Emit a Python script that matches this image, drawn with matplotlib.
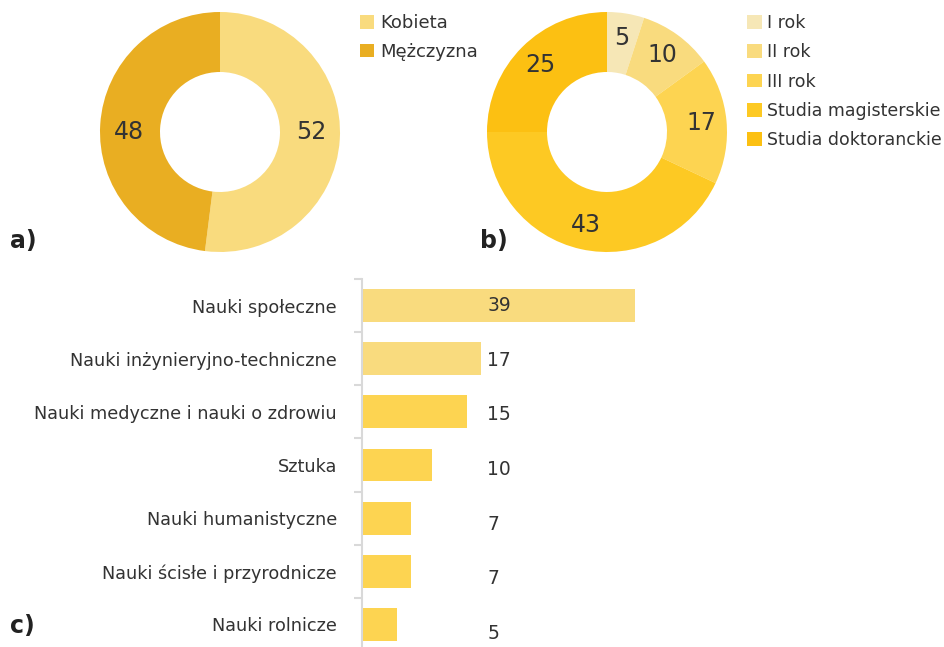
import numpy as np
import matplotlib
matplotlib.use("Agg")
import matplotlib.pyplot as plt

plt.rcParams['font.family'] = ['DejaVu Sans']

# a) płeć
plec_labels = ["Kobieta", "Mężczyzna"]
plec_values = [52, 48]
plec_colors = ["#F9DB7E", "#E9AE22"]

# b) rok studiów
rok_labels = ["I rok", "II rok", "III rok", "Studia magisterskie", "Studia doktoranckie"]
rok_values = [5, 10, 17, 43, 25]
rok_colors = ["#F6E7B6", "#F9DB7E", "#FDD451", "#FDC923", "#FCC012"]

# c) dziedziny nauki
dziedziny = ["Nauki społeczne", "Nauki inżynieryjno-techniczne",
             "Nauki medyczne i nauki o zdrowiu", "Sztuka",
             "Nauki humanistyczne", "Nauki ścisłe i przyrodnicze", "Nauki rolnicze"]
dziedziny_values = [39, 17, 15, 10, 7, 7, 5]
dziedziny_colors = ["#F9DB7E", "#F9DB7E", "#FDD451", "#FDD451", "#FDD451", "#FDD451", "#FDD451"]

TXT = "#333333"
W, H = 945, 647
fig = plt.figure(figsize=(W / 100, H / 100), dpi=100)


def px_axes(x0, y0, x1, y1):
    # pozycja osi w pikselach (od lewego górnego rogu)
    return fig.add_axes([x0 / W, (H - y1) / H, (x1 - x0) / W, (y1 - y0) / H])


def donut(ax, values, colors, pctdist):
    wedges, _, autotexts = ax.pie(values, colors=colors, startangle=90, counterclock=False,
                                  radius=1, wedgeprops=dict(width=0.5, linewidth=0),
                                  autopct=lambda p: f"{p:.0f}", pctdistance=pctdist,
                                  textprops=dict(fontsize=17, color=TXT))
    ax.set_xlim(-1, 1)
    ax.set_ylim(-1, 1)
    return wedges, autotexts


ax_a = px_axes(100, 12, 340, 252)
w_a, t_a = donut(ax_a, plec_values, plec_colors, 0.76)
# etykiety w poziomie środka, jak w oryginale
for t in t_a:
    t.set_y(0)
fig.legend(w_a, plec_labels, loc="upper left", bbox_to_anchor=(360 / W, 1 - 14 / H),
           frameon=False, fontsize=13, handlelength=0.8, handleheight=0.8,
           handletextpad=0.3, labelspacing=0.6, borderpad=0, borderaxespad=0,
           labelcolor=TXT)

ax_b = px_axes(487, 12, 727, 252)
w_b, t_b = donut(ax_b, rok_values, rok_colors, 0.79)
fig.legend(w_b, rok_labels, loc="upper left", bbox_to_anchor=(747 / W, 1 - 14 / H),
           frameon=False, fontsize=12.5, handlelength=0.85, handleheight=0.85,
           handletextpad=0.3, labelspacing=0.65, borderpad=0, borderaxespad=0,
           labelcolor=TXT)

# c) wykres słupkowy
ax_c = px_axes(362, 279, 945, 651)
y = np.arange(len(dziedziny))
ax_c.barh(y, dziedziny_values, height=0.62, color=dziedziny_colors)
ax_c.set_xlim(0, (945 - 362) / 7)
ax_c.set_ylim(len(dziedziny) - 0.5, -0.5)
for i, v in enumerate(dziedziny_values):
    ax_c.annotate(str(v), (17.9, i), xytext=(0, -1.1 * i), textcoords="offset points",
                  va="center", ha="left", fontsize=13.5, color=TXT)

ax_c.set_yticks(y)
ax_c.set_yticklabels(dziedziny, fontsize=12.7, color=TXT)
ax_c.set_yticks(np.arange(len(dziedziny) + 1) - 0.5, minor=True)
ax_c.tick_params(axis="y", which="major", length=0, pad=18)
ax_c.tick_params(axis="y", which="minor", length=6, width=1.5, color="#D9D9D9")
ax_c.set_xticks([])
for s in ["top", "right", "bottom"]:
    ax_c.spines[s].set_visible(False)
ax_c.spines["left"].set_color("#D9D9D9")
ax_c.spines["left"].set_linewidth(1.5)

# etykiety paneli
lab = dict(fontsize=17, fontweight="bold", color="#222222",
           family=["Liberation Sans Narrow", "DejaVu Sans"], va="baseline")
fig.text(10 / W, 1 - 248 / H, "a)", **lab)
fig.text(480 / W, 1 - 248 / H, "b)", **lab)
fig.text(10 / W, 1 - 633 / H, "c)", **lab)

fig.savefig("out.png", dpi=100)
